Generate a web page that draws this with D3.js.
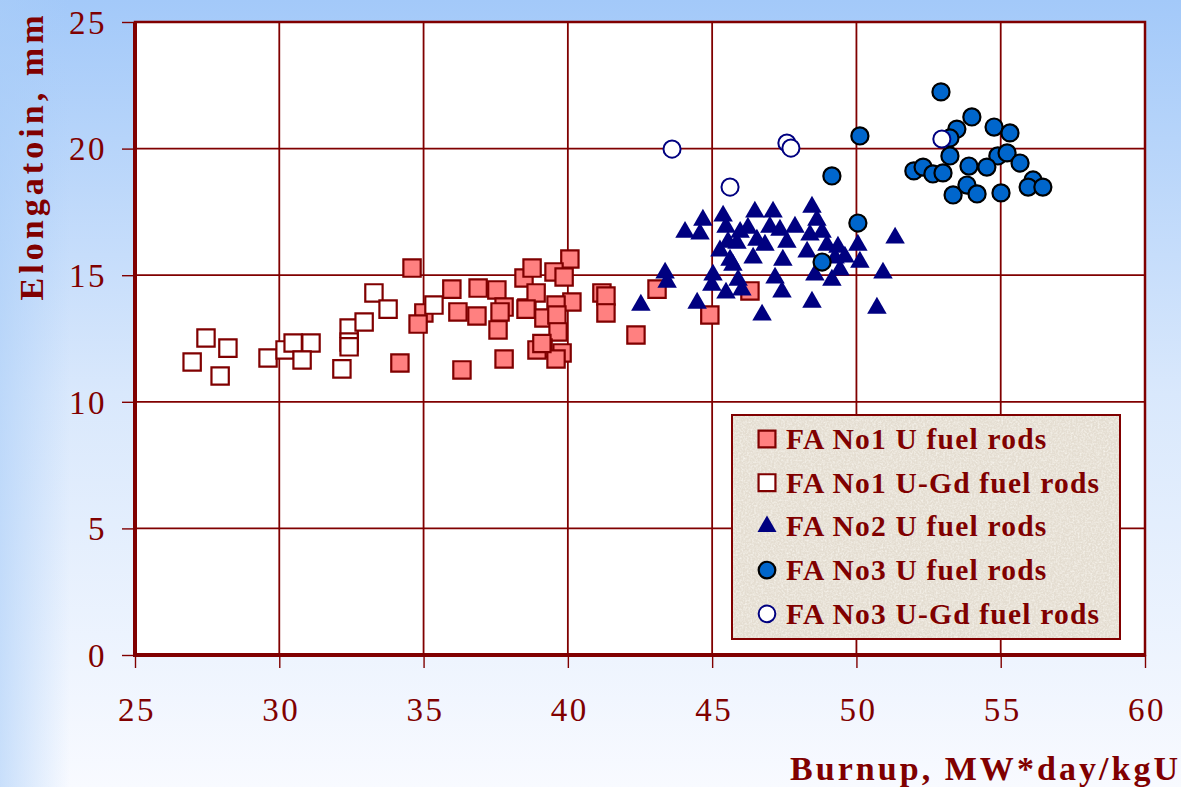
<!DOCTYPE html>
<html lang="en">
<head>
	<meta charset="utf-8">
	<title>Elongation vs burnup</title>
	<script type="text/javascript" src="https://cdn.jsdelivr.net/npm/d3@7"></script>
	<style>
		html, body { margin: 0; padding: 0; }
		body { width: 1181px; height: 787px; overflow: hidden; }
		text { font-family: "Liberation Serif", "Times New Roman", serif; fill: #800000; }
	</style>
</head>
<body>
	<div id="chart"></div>
</body>
	<script type="text/javascript">

		// FA No1, U fuel rods
		var fa1U = [
			[34.60,15.28],[35.01,13.51],[34.81,13.07],[35.98,14.45],[36.19,13.55],[36.85,13.39],
			[36.89,14.49],[37.54,14.42],[37.79,13.74],[37.65,13.55],[37.58,12.84],[34.18,11.53],
			[36.33,11.26],[37.79,11.69],[38.48,14.89],[38.58,13.70],[40.07,15.64],[38.76,15.28],
			[39.52,15.13],[39.87,14.93],[38.90,14.30],[40.14,13.94],[38.55,13.66],[39.59,13.82],
			[39.17,13.31],[39.62,13.43],[39.66,12.76],[39.14,12.12],[39.80,11.93],[39.59,11.69],
			[38.93,12.05],[39.10,12.30],[41.18,14.30],[41.32,14.18],[41.32,13.51],[42.36,12.64],
			[43.09,14.45],[44.92,13.43],[46.31,14.38]
		];
		// FA No1, U-Gd fuel rods
		var fa1Gd = [
			[26.98,11.57],[27.46,12.52],[27.95,11.02],[28.22,12.12],[29.61,11.73],[30.20,12.05],
			[30.48,12.32],[31.10,12.32],[30.79,11.65],[32.17,11.30],[32.42,12.91],[32.94,13.15],
			[32.42,12.36],[32.42,12.17],[33.28,14.30],[33.77,13.66],[35.36,13.82]
		];
		// FA No2, U fuel rods
		var fa2U = [
			[44.06,16.70],[44.68,17.18],[44.58,16.63],[45.38,17.34],[45.48,16.90],[45.27,15.96],
			[45.55,16.31],[45.97,16.70],[45.86,16.27],[45.62,15.60],[45.72,15.40],[46.48,17.50],
			[46.24,16.86],[46.55,16.39],[46.42,15.68],[43.37,15.09],[43.44,14.73],[42.53,13.82],
			[45.03,15.01],[44.99,14.61],[44.48,13.90],[45.48,14.30],[45.90,14.81],[46.03,14.42],
			[46.73,13.43],[47.11,17.50],[48.46,17.69],[48.63,17.18],[47.87,16.90],[47.35,16.78],
			[47.59,16.31],[48.39,16.59],[48.81,16.70],[48.29,15.92],[48.98,16.19],[49.36,16.11],
			[49.26,15.68],[49.60,15.72],[49.43,15.21],[48.56,15.01],[49.15,14.81],[50.05,16.19],
			[50.12,15.52],[51.34,16.47],[50.92,15.09],[47.18,14.89],[47.42,14.34],[48.46,13.94],
			[50.71,13.70],[46.83,16.19],[47.45,15.60],[47.00,16.90]
		];
		// FA No3, U fuel rods
		var fa3U = [
			[52.93,22.24],[54.00,21.25],[53.48,20.77],[53.24,20.42],[54.77,20.85],[55.32,20.62],
			[53.24,19.71],[54.90,19.71],[55.22,19.83],[55.67,19.43],[53.90,19.31],[54.52,19.27],
			[51.99,19.12],[52.31,19.27],[52.65,19.00],[53.00,19.04],[53.35,18.17],[53.83,18.56],
			[54.18,18.21],[55.01,18.25],[56.12,18.76],[55.95,18.48],[56.46,18.48],[50.12,20.50],
			[49.15,18.92],[50.05,17.06],[48.81,15.52]
		];
		// FA No3, U-Gd fuel rods
		var fa3Gd = [
			[43.61,19.98],[47.59,20.22],[47.73,20.02],[45.62,18.48],[52.96,20.38]
		];

		var seriesNames = ["FA No1 U fuel rods", "FA No1 U-Gd fuel rods", "FA No2 U fuel rods",
			"FA No3 U fuel rods", "FA No3 U-Gd fuel rods"];
		var xTicks = [25, 30, 35, 40, 45, 50, 55, 60];
		var yTicks = [0, 5, 10, 15, 20, 25];

		var w = 1181, h = 787;
		var dark = "#800000";

		var svg = d3.select("#chart").append("svg")
			.attr("width", w).attr("height", h);

		var defs = svg.append("defs");
		var bg = defs.append("linearGradient").attr("id", "bg")
			.attr("x1", 0).attr("y1", 0).attr("x2", 0).attr("y2", 1);
		bg.append("stop").attr("offset", "0%").attr("stop-color", "#a3c9f9");
		bg.append("stop").attr("offset", "50%").attr("stop-color", "#d9e8fc");
		bg.append("stop").attr("offset", "100%").attr("stop-color", "#f8faff");
		var side = defs.append("linearGradient").attr("id", "side")
			.attr("x1", 0).attr("y1", 0).attr("x2", 1).attr("y2", 0);
		side.append("stop").attr("offset", "0%").attr("stop-color", "#a9cdf8").attr("stop-opacity", 0.6);
		side.append("stop").attr("offset", "100%").attr("stop-color", "#a9cdf8").attr("stop-opacity", 0);

		// speckle for the legend box
		var f = defs.append("filter").attr("id", "speckle")
			.attr("x", 0).attr("y", 0).attr("width", 1).attr("height", 1);
		f.append("feTurbulence").attr("type", "fractalNoise").attr("baseFrequency", 0.55)
			.attr("numOctaves", 2).attr("seed", 4).attr("result", "noise");
		f.append("feColorMatrix").attr("in", "noise").attr("type", "matrix")
			.attr("values", "0 0 0 0 0.95  0 0 0 0 0.93  0 0 0 0 0.88  0 0 0 -1.6 1.0")
			.attr("result", "dots");
		f.append("feComposite").attr("in", "dots").attr("in2", "SourceGraphic").attr("operator", "in");

		svg.append("rect").attr("width", w).attr("height", h).attr("fill", "url(#bg)");
		svg.append("rect").attr("width", 70).attr("height", h).attr("fill", "url(#side)");

		var m = {left: 135, right: 1145, top: 22, bottom: 655};

		var x = d3.scaleLinear().domain([25, 60]).range([m.left, m.right]);
		var y = d3.scaleLinear().domain([0, 25]).range([m.bottom, m.top]);

		svg.append("rect")
			.attr("x", m.left).attr("y", m.top)
			.attr("width", m.right - m.left).attr("height", m.bottom - m.top)
			.attr("fill", "#ffffff");

		// gridlines
		svg.append("g").selectAll("line").data(xTicks.slice(1, -1)).enter().append("line")
			.attr("x1", function(d) { return x(d); }).attr("x2", function(d) { return x(d); })
			.attr("y1", m.top).attr("y2", m.bottom)
			.attr("stroke", dark).attr("stroke-width", 1.8);
		svg.append("g").selectAll("line").data(yTicks.slice(1, -1)).enter().append("line")
			.attr("y1", function(d) { return y(d); }).attr("y2", function(d) { return y(d); })
			.attr("x1", m.left).attr("x2", m.right)
			.attr("stroke", dark).attr("stroke-width", 1.8);

		// axes
		var xAxis = svg.append("g").attr("transform", "translate(0," + m.bottom + ")")
			.call(d3.axisBottom(x).tickValues(xTicks).tickSize(13).tickPadding(36).tickFormat(d3.format("d")));
		var yAxis = svg.append("g").attr("transform", "translate(" + m.left + ",0)")
			.call(d3.axisLeft(y).tickValues(yTicks).tickSize(13).tickPadding(15).tickFormat(d3.format("d")));
		[xAxis, yAxis].forEach(function(a) {
			a.select(".domain").remove();
			a.selectAll(".tick line").attr("stroke", dark).attr("stroke-width", 1.4);
			a.selectAll(".tick text").attr("fill", dark)
				.style("font-family", "'Liberation Serif', serif")
				.style("font-size", "33px").style("letter-spacing", "2.5px");
		});
		yAxis.selectAll(".tick text").attr("dy", "0.34em");
		xAxis.selectAll(".tick text").attr("dy", "0.5em").attr("dx", "1.5px");

		// plot frame
		svg.append("rect")
			.attr("x", m.left).attr("y", m.top)
			.attr("width", m.right - m.left).attr("height", m.bottom - m.top)
			.attr("fill", "none").attr("stroke", dark).attr("stroke-width", 2.5);
		svg.append("path")
			.attr("d", "M" + m.left + "," + m.top + "V" + m.bottom + "H" + m.right)
			.attr("fill", "none").attr("stroke", dark).attr("stroke-width", 4);

		// markers
		var styles = [
			{type: d3.symbolSquare, size: 300, fill: "#ff8080", stroke: dark, sw: 2.2},
			{type: d3.symbolSquare, size: 300, fill: "#ffffff", stroke: dark, sw: 2.2},
			{type: d3.symbolTriangle, size: 165, fill: "#000080", stroke: "none", sw: 0},
			{type: d3.symbolCircle, size: 230, fill: "#0066cc", stroke: "#000000", sw: 2.2},
			{type: d3.symbolCircle, size: 230, fill: "#ffffff", stroke: "#000080", sw: 2}
		];
		var allSeries = [fa1U, fa1Gd, fa2U, fa3U, fa3Gd];

		allSeries.forEach(function(data, i) {
			var s = styles[i];
			svg.append("g").selectAll("path").data(data).enter().append("path")
				.attr("d", d3.symbol().type(s.type).size(s.size))
				.attr("transform", function(d) { return "translate(" + x(d[0]) + "," + y(d[1]) + ")"; })
				.attr("fill", s.fill).attr("stroke", s.stroke).attr("stroke-width", s.sw);
		});

		// legend
		var lg = svg.append("g");
		lg.append("rect").attr("x", 732).attr("y", 415).attr("width", 388).attr("height", 224)
			.attr("fill", "#e4ddd1");
		lg.append("rect").attr("x", 732).attr("y", 415).attr("width", 388).attr("height", 224)
			.attr("fill", "#000").attr("filter", "url(#speckle)");
		lg.append("rect").attr("x", 732).attr("y", 415).attr("width", 388).attr("height", 224)
			.attr("fill", "none").attr("stroke", dark).attr("stroke-width", 2);

		var rows = lg.selectAll(".row").data(seriesNames).enter().append("g")
			.attr("class", "row")
			.attr("transform", function(d, i) { return "translate(767," + (439 + i * 43.7) + ")"; });
		rows.append("path")
			.attr("d", function(d, i) { return d3.symbol().type(styles[i].type).size(styles[i].size * 0.95)(); })
			.attr("fill", function(d, i) { return styles[i].fill; })
			.attr("stroke", function(d, i) { return styles[i].stroke; })
			.attr("stroke-width", function(d, i) { return styles[i].sw; });
		rows.append("text")
			.attr("x", 19).attr("y", 10)
			.style("font-size", "29.5px").style("font-weight", "bold").style("letter-spacing", "1.2px")
			.text(function(d) { return d; });

		// axis titles
		svg.append("text")
			.attr("x", 1178).attr("y", 780).attr("text-anchor", "end")
			.attr("textLength", 388).attr("lengthAdjust", "spacing")
			.style("font-size", "34px").style("font-weight", "bold")
			.text("Burnup, MW*day/kgU");
		svg.append("text")
			.attr("transform", "translate(43,158) rotate(-90)")
			.attr("text-anchor", "middle")
			.attr("textLength", 285).attr("lengthAdjust", "spacing")
			.style("font-size", "34px").style("font-weight", "bold")
			.text("Elongatoin, mm");
	</script>
</html>
